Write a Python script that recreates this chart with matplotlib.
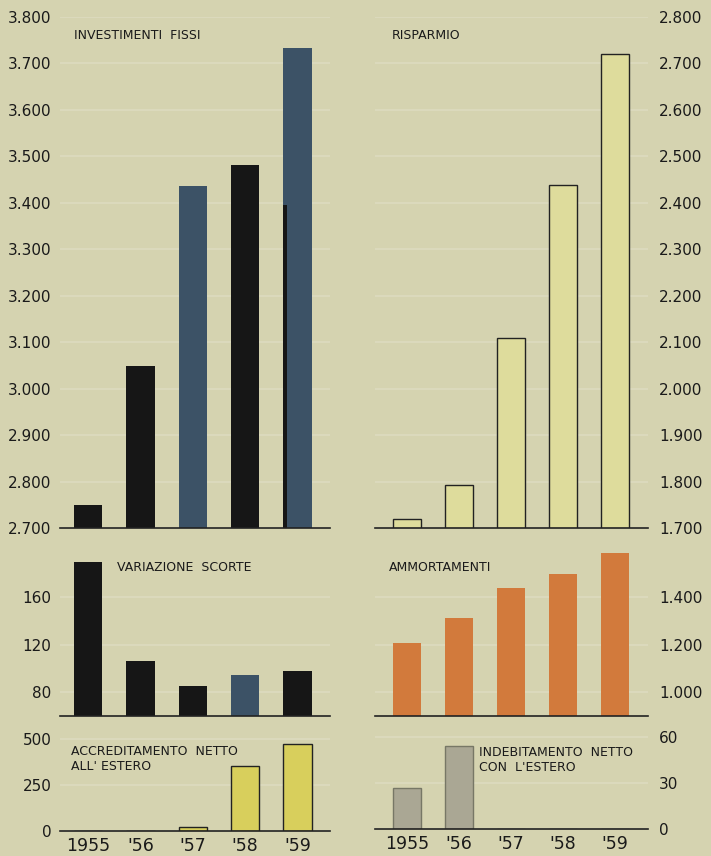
import matplotlib
matplotlib.use('Agg')
import matplotlib.pyplot as plt
from matplotlib.ticker import FuncFormatter

anni = ['1955', "'56", "'57", "'58", "'59"]

investimenti_fissi = [2750, 3048, 3436, 3481, 3733]
investimenti_1959_nero = 3395
risparmio = [1720, 1793, 2110, 2438, 2720]
variazione_scorte = [190, 106, 85, 95, 98]
ammortamenti = [1208, 1315, 1438, 1498, 1587]
accreditamento = [0, 0, 20, 353, 473]
indebitamento = [27, 54, 0, 0, 0]

BG = '#d5d3b0'
NERO = '#161616'
BLU = '#3c5266'
fmt = FuncFormatter(lambda v, p: f"{v:,.0f}".replace(',', '.'))

fig = plt.figure(figsize=(7.11, 8.56), dpi=100)
fig.patch.set_facecolor(BG)

def make_ax(rect, ylim, yticks, side):
    ax = fig.add_axes(rect)
    ax.set_facecolor(BG)
    ax.set_ylim(*ylim)
    ax.set_yticks(yticks)
    ax.yaxis.set_major_formatter(fmt)
    for s in ['top', 'left', 'right']:
        ax.spines[s].set_visible(False)
    ax.spines['bottom'].set_color('#222222')
    ax.spines['bottom'].set_linewidth(1.2)
    ax.tick_params(axis='both', length=0, labelsize=11, colors='#1a1a1a')
    if side == 'right':
        ax.yaxis.tick_right()
        ax.tick_params(axis='y', pad=8)
    else:
        ax.tick_params(axis='y', pad=6)
    ax.grid(axis='y', color='#dddbbf', linewidth=1.2)
    ax.set_axisbelow(True)
    ax.set_xticks([])
    return ax

x = range(len(anni))
W = 0.54
xl_left = (-0.54, 4.62)
xl_right = (-0.61, 4.63)
TFS = 9

# investimenti fissi
ax1 = make_ax([60/711, 1-528/856, 270/711, 511/856], (2700, 3800),
              range(2700, 3801, 100), 'left')
cols = [NERO, NERO, BLU, NERO, BLU]
ax1.bar(x, investimenti_fissi, width=W, color=cols)
ax1.bar(4 - W/2, investimenti_1959_nero, width=0.06, align='edge', color=NERO)
ax1.set_xlim(*xl_left)
ax1.text(0.05, 0.977, 'INVESTIMENTI  FISSI', transform=ax1.transAxes,
         fontsize=TFS, va='top', color='#1a1a1a')

# risparmio
ax2 = make_ax([375/711, 1-528/856, 273/711, 511/856], (1700, 2800),
              range(1700, 2801, 100), 'right')
ax2.bar(x, risparmio, width=W, color='#dedc9c', edgecolor='#222222', linewidth=1)
ax2.set_xlim(*xl_right)
ax2.text(0.06, 0.977, 'RISPARMIO', transform=ax2.transAxes,
         fontsize=TFS, va='top', color='#1a1a1a')

# variazione scorte
ax3 = make_ax([60/711, 1-716/856, 270/711, 166/856], (60, 200),
              [80, 120, 160], 'left')
ax3.bar(x, variazione_scorte, width=W, color=[NERO, NERO, NERO, BLU, NERO])
ax3.set_xlim(*xl_left)
ax3.text(0.21, 0.935, 'VARIAZIONE  SCORTE', transform=ax3.transAxes,
         fontsize=TFS, va='top', color='#1a1a1a')

# ammortamenti
ax4 = make_ax([375/711, 1-716/856, 273/711, 166/856], (900, 1600),
              [1000, 1200, 1400], 'right')
ax4.bar(x, ammortamenti, width=W, color='#d27a3c')
ax4.set_xlim(*xl_right)
ax4.text(0.05, 0.935, 'AMMORTAMENTI', transform=ax4.transAxes,
         fontsize=TFS, va='top', color='#1a1a1a')

# accreditamento netto
ax5 = make_ax([60/711, 1-831/856, 270/711, 97/856], (0, 527),
              [0, 250, 500], 'left')
ax5.bar(x, accreditamento, width=W, color='#d8cf5c', edgecolor='#222222', linewidth=1)
ax5.set_xlim(*xl_left)
ax5.text(0.04, 0.89, "ACCREDITAMENTO  NETTO\nALL' ESTERO", transform=ax5.transAxes,
         fontsize=TFS, va='top', color='#1a1a1a', linespacing=1.2)

# indebitamento netto
ax6 = make_ax([375/711, 1-829/856, 273/711, 97/856], (0, 63.3),
              [0, 30, 60], 'right')
ax6.bar(x, indebitamento, width=W, color='#aaa794', edgecolor='#777766', linewidth=1)
ax6.set_xlim(*xl_right)
ax6.text(0.38, 0.86, "INDEBITAMENTO  NETTO\nCON  L'ESTERO", transform=ax6.transAxes,
         fontsize=TFS, va='top', color='#1a1a1a', linespacing=1.2)

for ax in (ax5, ax6):
    ax.set_xticks(list(x))
    ax.set_xticklabels(anni, fontsize=12.5)
    ax.tick_params(axis='x', pad=4)

fig.savefig('out.png', dpi=100, facecolor=BG)
